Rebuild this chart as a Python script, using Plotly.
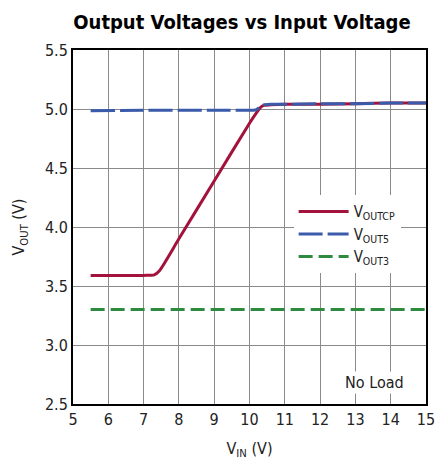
import plotly.graph_objects as go

# Data
vin_cp = [5.5, 7.0, 7.3, 7.45, 8.0, 9.0, 10.0, 10.2, 10.3, 10.4, 10.6, 11.0, 12.0, 13.0, 14.0, 15.0]
vout_cp = [3.59, 3.59, 3.595, 3.63, 3.90, 4.39, 4.88, 4.97, 5.01, 5.03, 5.035, 5.04, 5.04, 5.045, 5.05, 5.05]

vin_5 = [5.5, 7.0, 9.0, 10.1, 10.2, 10.3, 10.4, 10.6, 11.0, 12.0, 13.0, 14.0, 15.0]
vout_5 = [4.985, 4.99, 4.99, 4.99, 4.995, 5.02, 5.035, 5.04, 5.04, 5.045, 5.045, 5.05, 5.05]

vin_3 = [5.5, 15.0]
vout_3 = [3.30, 3.30]

x_ticks = [5, 6, 7, 8, 9, 10, 11, 12, 13, 14, 15]
y_ticks = [2.5, 3.0, 3.5, 4.0, 4.5, 5.0, 5.5]

FONT = "Liberation Sans Narrow, DejaVu Sans Condensed, Roboto, sans-serif"

fig = go.Figure()
fig.add_trace(go.Scatter(x=vin_cp, y=vout_cp, mode="lines", name="V<sub>OUTCP</sub>",
                         line=dict(color="#A3123A", width=3, shape="spline", smoothing=0.6)))
fig.add_trace(go.Scatter(x=vin_5, y=vout_5, mode="lines", name="V<sub>OUT5</sub>",
                         line=dict(color="#3A5BAA", width=3, dash="24px,5px", shape="spline", smoothing=0.6)))
fig.add_trace(go.Scatter(x=vin_3, y=vout_3, mode="lines", name="V<sub>OUT3</sub>",
                         line=dict(color="#2E8A3E", width=3, dash="14px,6px")))

fig.update_layout(
    width=436, height=460,
    margin=dict(l=73, r=10, t=50, b=56, autoexpand=False),
    paper_bgcolor="white", plot_bgcolor="white",
    font=dict(family=FONT, size=16, color="#222"),
    title=dict(text="<b>Output Voltages vs Input Voltage</b>", x=0.555, xanchor="center",
               y=0.953, yanchor="middle", font=dict(family=FONT, size=20, color="black")),
    showlegend=True,
    legend=dict(x=0.625, y=0.59, xanchor="left", yanchor="top", bgcolor="white",
                borderwidth=0, font=dict(family=FONT, size=15, color="#222"),
                itemwidth=50, tracegroupgap=0),
    annotations=[dict(x=13.55, y=2.68, xref="x", yref="y", text="No Load", showarrow=False,
                      font=dict(family=FONT, size=16, color="#222"), bgcolor="white",
                      xanchor="center", yanchor="middle")],
)

fig.update_xaxes(range=[5, 15], tickvals=x_ticks, ticktext=[str(v) for v in x_ticks],
                 showgrid=True, gridcolor="#8a8a8a", gridwidth=1,
                 showline=True, linecolor="black", linewidth=2, mirror=True,
                 ticks="", zeroline=False, automargin=False,
                 title=dict(text="V<sub>IN</sub> (V)", standoff=16, font=dict(size=16)))
fig.update_yaxes(range=[2.5, 5.5], tickvals=y_ticks, ticktext=[f"{v:.1f}" for v in y_ticks],
                 showgrid=True, gridcolor="#8a8a8a", gridwidth=1,
                 showline=True, linecolor="black", linewidth=2, mirror=True,
                 ticks="", zeroline=False, automargin=False,
                 title=dict(text="V<sub>OUT</sub> (V)", standoff=16, font=dict(size=16)))

fig.write_html("out.html", config={"displayModeBar": False},
               post_script="document.body.style.margin='0';")
